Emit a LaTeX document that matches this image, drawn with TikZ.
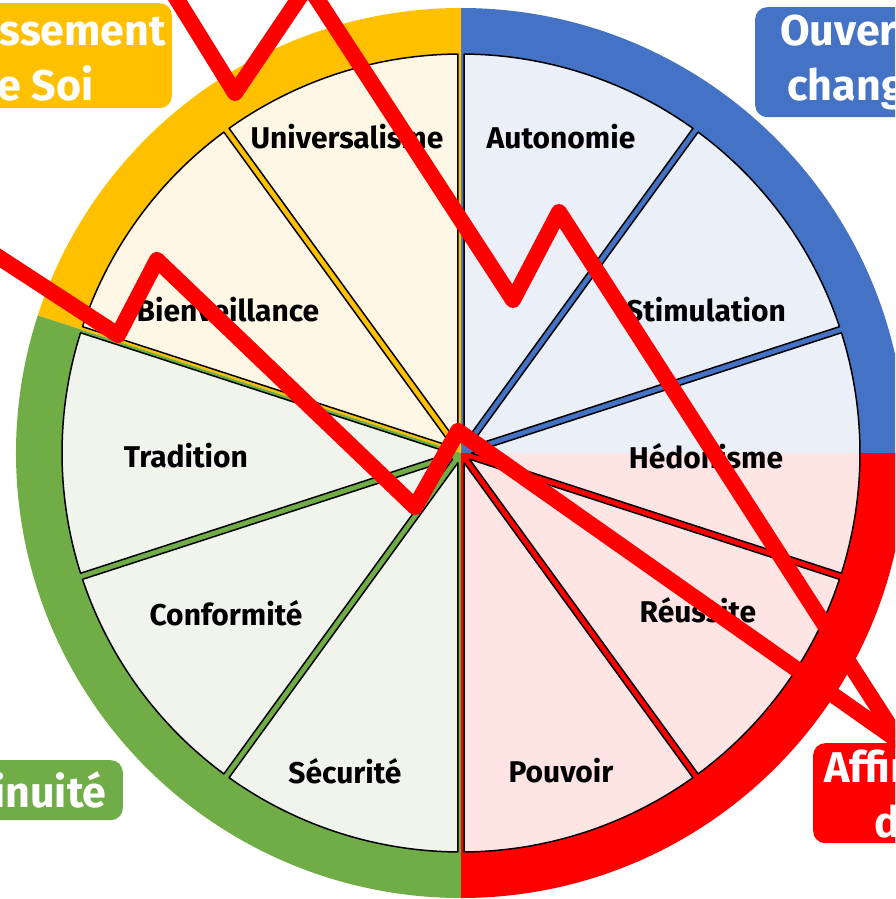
\documentclass[tikz,border=0pt]{standalone}
\usepackage{fontspec}
\setmainfont{Fira Sans}
\usepackage{tikz}
\definecolor{corange}{HTML}{FFC000}
\definecolor{cblue}{HTML}{4472C4}
\definecolor{cgreen}{HTML}{70AD47}
\definecolor{cred}{HTML}{FF0000}
\definecolor{lorange}{HTML}{FFF7E6}
\definecolor{lblue}{HTML}{EAEFF8}
\definecolor{lgreen}{HTML}{F0F4EC}
\definecolor{lred}{HTML}{FFE4E4}
\begin{document}
\begin{tikzpicture}[line cap=round,line join=round,x=1pt,y=1pt,
  wedge/.style={draw=black,line width=1.5pt},
  valeur/.style={font=\fontsize{30}{32}\selectfont\bfseries,color=black},
  groupe/.style={rounded corners=12pt,text=white,font=\fontsize{43}{55}\selectfont\bfseries,align=center,inner sep=0pt},
  trait/.style={color=cred,line width=16pt}]
\useasboundingbox (-461,-446) rectangle (434,453);
\clip (-461,-446) rectangle (434,453);
% anneau
\fill[cblue] (0,0) -- (0:445) arc[start angle=0,end angle=90,radius=445] -- cycle;
\fill[corange] (0,0) -- (90:445) arc[start angle=90,end angle=162,radius=445] -- cycle;
\fill[cgreen] (0,0) -- (162:445) arc[start angle=162,end angle=270,radius=445] -- cycle;
\fill[cred] (0,0) -- (270:445) arc[start angle=270,end angle=360,radius=445] -- cycle;
% secteurs
\draw[wedge,fill=lorange] (108:10.4) -- (90.46:399) arc[start angle=90.46,end angle=125.54,radius=399] -- cycle;
\draw[wedge,fill=lorange] (144:10.4) -- (126.46:399) arc[start angle=126.46,end angle=161.54,radius=399] -- cycle;
\draw[wedge,fill=lgreen] (180:10.4) -- (162.46:399) arc[start angle=162.46,end angle=197.54,radius=399] -- cycle;
\draw[wedge,fill=lgreen] (216:10.4) -- (198.46:399) arc[start angle=198.46,end angle=233.54,radius=399] -- cycle;
\draw[wedge,fill=lgreen] (252:10.4) -- (234.46:399) arc[start angle=234.46,end angle=269.54,radius=399] -- cycle;
\draw[wedge,fill=lred] (288:10.4) -- (270.46:399) arc[start angle=270.46,end angle=305.54,radius=399] -- cycle;
\draw[wedge,fill=lred] (324:10.4) -- (306.46:399) arc[start angle=306.46,end angle=341.54,radius=399] -- cycle;
\draw[wedge,fill=lblue] (36:10.4) -- (18.46:399) arc[start angle=18.46,end angle=53.54,radius=399] -- cycle;
\draw[wedge,fill=lblue] (72:10.4) -- (54.46:399) arc[start angle=54.46,end angle=89.54,radius=399] -- cycle;
% hedonisme, moitie bleu moitie rouge
\begin{scope}
\clip (0:10.4) -- (-17.54:399) arc[start angle=-17.54,end angle=17.54,radius=399] -- cycle;
\fill[lblue] (0,0) rectangle (400,130);
\fill[lred] (0,0) rectangle (400,-130);
\end{scope}
\draw[wedge] (0:10.4) -- (-17.54:399) arc[start angle=-17.54,end angle=17.54,radius=399] -- cycle;
% valeurs
\draw (-114,316) node[valeur] (univ) {Universalisme};
\draw (100,316) node[valeur] (auto) {Autonomie};
\draw (-233,143) node[valeur] (bien) {Bienveillance};
\draw (245,143) node[valeur] (stim) {Stimulation};
\draw (-275,-3) node[valeur] (trad) {Tradition};
\draw (245,-3) node[valeur] (hedo) {Hédonisme};
\draw (-235,-160) node[valeur] (conf) {Conformité};
\draw (237,-157) node[valeur] (reus) {Réussite};
\draw (-116,-318) node[valeur] (secu) {Sécurité};
\draw (100,-318) node[valeur] (pouv) {Pouvoir};
% groupes
\node[groupe,fill=corange,minimum width=278,minimum height=105,anchor=north east] (depassement) at (-289,450) {Dépassement\\de Soi};
\node[groupe,fill=cblue,minimum width=306,minimum height=110,anchor=north west] (ouverture) at (294,446) {Ouverture au\\changement};
\node[groupe,fill=cgreen,minimum width=236,minimum height=60,anchor=north east] (continuite) at (-338,-307) {Continuité};
\node[groupe,fill=cred,minimum width=244,minimum height=100,anchor=north west] (affirmation) at (352,-290) {Affirmation\\de Soi};
% traits rouges
\draw[trait] (-296,473) -- (-226,360) -- (-153,468) -- (52,153) -- (98,241) -- (439,-289);
\draw[trait] (-481,208) -- (-343,118) -- (-304,193) -- (-46,-54) -- (-3,22) -- (439,-289);
\end{tikzpicture}
\end{document}
